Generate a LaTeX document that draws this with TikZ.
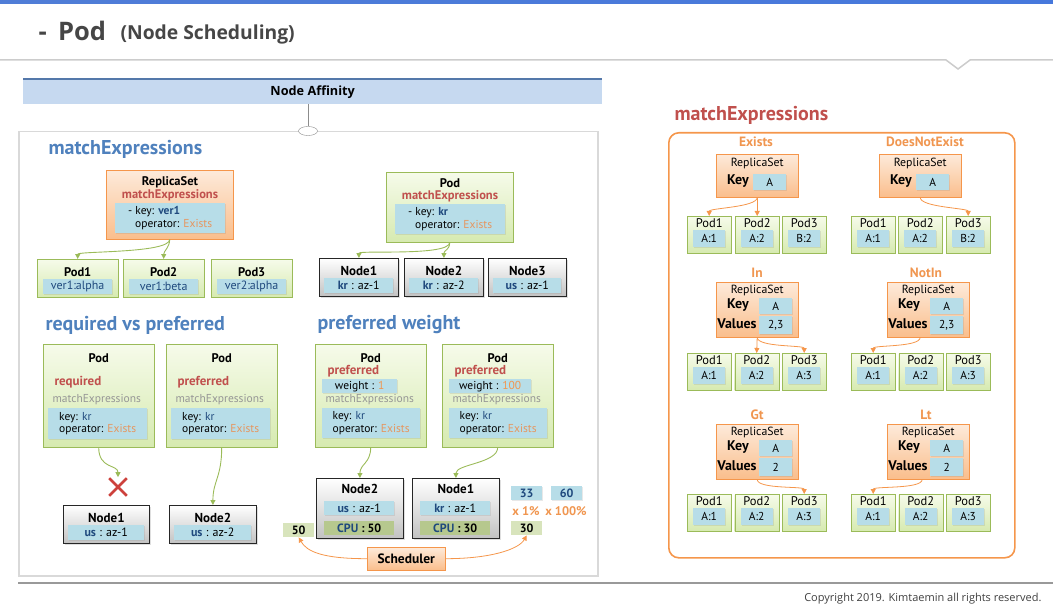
\documentclass[tikz,border=0pt]{standalone}
\usepackage{fontspec}
\setmainfont{PT Sans}
\newfontfamily\ttlfont{Open Sans}
\usetikzlibrary{arrows.meta,positioning,calc,shadows,shapes.geometric,shapes.misc}

\definecolor{hdblue}{RGB}{79,129,189}
\definecolor{hdred}{RGB}{192,80,77}
\definecolor{optxt}{RGB}{240,150,80}
\definecolor{extxt}{RGB}{230,150,95}
\definecolor{keyblue}{RGB}{31,73,125}
\definecolor{valblue}{RGB}{183,221,232}
\definecolor{podtop}{RGB}{246,251,234}
\definecolor{podbot}{RGB}{214,234,176}
\definecolor{podline}{RGB}{155,187,89}
\definecolor{rstop}{RGB}{253,234,218}
\definecolor{rsbot}{RGB}{250,190,140}
\definecolor{rsline}{RGB}{245,150,75}
\definecolor{cpuolive}{RGB}{182,200,142}
\definecolor{numolive}{RGB}{216,228,188}
\definecolor{affblue}{RGB}{198,217,240}
\definecolor{affline}{RGB}{84,120,170}
\definecolor{ttlgray}{RGB}{70,70,70}
\definecolor{mexgray}{RGB}{150,150,150}
\definecolor{crossred}{RGB}{205,65,60}
\definecolor{bandA}{RGB}{80,125,215}
\definecolor{bandB}{RGB}{150,185,235}
\definecolor{bandC}{RGB}{70,120,220}

\newcommand\fsz[1]{\fontsize{#1}{#1}\selectfont}
\newcommand\kv[2]{\textbf{\textcolor{keyblue}{#1}} : #2}

\tikzset{
  box/.style 2 args={anchor=north west, minimum width=#1pt, minimum height=#2pt, inner sep=0pt},
  shdw/.style={drop shadow={opacity=.25, shadow xshift=1.2pt, shadow yshift=-1.2pt}},
  rsbox/.style={draw=rsline, top color=rstop, bottom color=rsbot, shdw},
  podbox/.style={draw=podline, top color=podtop, bottom color=podbot, shdw},
  nodebox/.style={draw=black!85, line width=.8pt, top color=white, bottom color=black!24, shdw},
  valbox/.style={fill=valblue, drop shadow={opacity=.18, shadow xshift=1pt, shadow yshift=-1pt}},
  cpubox/.style={fill=cpuolive},
  numbox/.style={fill=numolive},
  boxttl/.style={font=\fsz{12.5}\bfseries},
  head/.style={font=\fsz{20}\bfseries, anchor=west},
  optitle/.style={font=\fsz{13.5}\bfseries, text=optxt},
  flow/.style={draw=podline, line width=.9pt, -{Triangle[length=5pt,width=5pt]}},
  oflow/.style={draw=rsline, line width=.8pt, -{Triangle[length=5pt,width=5pt]}},
}

\begin{document}
\begin{tikzpicture}[x=1pt,y=-1pt,font=\fsz{11.5}]
  \useasboundingbox (0,0) rectangle (1053,607);
  % page frame: band, title, rules
  \shade[left color=bandA, middle color=bandB, right color=bandC] (0,0) rectangle (1053,4);
  \node[anchor=base west, font=\ttlfont\bfseries\fsz{25.5}, text=ttlgray] (ttl) at (35,41) {-\hspace{.45em}Pod};
  \node[anchor=base west, font=\ttlfont\bfseries\fsz{19.3}, text=ttlgray] (ttlsub) at (117,40) {(Node Scheduling)};
  \draw[black!20, line width=1.5pt] (0,60) -- (946,60) -- (958,69) -- (970,60) -- (1053,60);
  \draw[black!40, line width=2pt] (18,583) -- (1053,583);
  \node[anchor=base east, font=\ttlfont\fsz{11}, text=black!75] (copy) at (1045,601) {Copyright 2019. Kimtaemin all rights reserved.};

  % ---- left: Node Affinity ----
  \node[fill=affblue, box={579}{25}, font=\ttlfont\bfseries\fsz{12.7}] (aff) at (23,79) {Node Affinity};
  \draw[affline, line width=2pt] (aff.north west) -- (aff.north east);
  \node[draw=black!15, line width=1.5pt, box={579}{444}] (lpanel) at (18,131) {};
  \node[ellipse, draw=black!45, fill=white, minimum width=19pt, minimum height=9pt, inner sep=0pt] (hub) at (308,131) {};
  \draw[black!45] (hub.north) -- (hub.north |- aff.south);

  % green pod / grey node with one value box
  \def\lpod#1#2#3#4#5{% name, x, y, title, value
    \node[podbox, box={81}{38}] (#1) at (#2,#3) {};
    \node[boxttl] (#1t) at ($(#1.north)+(0,13)$) {#4};
    \node[valbox, box={69}{15}, text=keyblue, font=\fsz{12}] (#1v) at ($(#1.north west)+(6,20)$) {#5};
  }
  \def\gnode#1#2#3#4#5#6{% name, x, y, width, title, value
    \node[nodebox, box={#4}{38}] (#1) at (#2,#3) {};
    \node[boxttl, font=\fsz{13}\bfseries] (#1t) at ($(#1.north)+(0,13)$) {#5};
    \node[valbox, box={#4-10}{15}, font=\fsz{12}] (#1v) at ($(#1.north west)+(5,20)$) {#6};
  }

  % matchExpressions (labels)
  \node[head, text=hdblue] (h1) at (45,149) {matchExpressions};
  \node[rsbox, box={127}{69}] (rs1) at (106,170) {};
  \node[boxttl] (rs1t) at (170,182) {ReplicaSet};
  \node[boxttl, text=hdred] (rs1m) at (170,195) {matchExpressions};
  \node[valbox, box={110}{30}, align=left] (rs1k) at (115,203)
    {- key: \textbf{\textcolor{keyblue}{ver1}}\\[1pt]\hspace*{7pt}operator: \textcolor{extxt}{Exists}};
  \lpod{lp1}{37}{259}{Pod1}{ver1:alpha}
  \lpod{lp2}{123}{259}{Pod2}{ver1:beta}
  \lpod{lp3}{211}{259}{Pod3}{ver2:alpha}
  \draw[flow] (rs1.south) .. controls +(0,14) and +(0,-8) .. (lp1.north);
  \draw[flow] (rs1.south) .. controls +(0,8) and +(0,-8) .. (lp2.north);

  % matchExpressions (nodes)
  \node[podbox, box={127}{70}] (tp) at (386,172) {};
  \node[boxttl] (tpt) at (450,183) {Pod};
  \node[boxttl, text=hdred] (tpm) at (450,196) {matchExpressions};
  \node[valbox, box={110}{30}, align=left] (tpk) at (395,204)
    {- key: \textbf{\textcolor{keyblue}{kr}}\\[1pt]\hspace*{7pt}operator: \textcolor{extxt}{Exists}};
  \gnode{tn1}{319}{258}{79}{Node1}{\kv{kr}{az-1}}
  \gnode{tn2}{404}{258}{79}{Node2}{\kv{kr}{az-2}}
  \gnode{tn3}{488}{258}{78}{Node3}{\kv{us}{az-1}}
  \draw[flow] (tp.south) .. controls +(0,14) and +(0,-8) .. (tn1.north);
  \draw[flow] (tp.south) .. controls +(0,8) and +(0,-8) .. (tn2.north);

  % required vs preferred
  \def\cpod#1#2#3#4{% name, x, y, kind
    \node[podbox, box={111}{103}] (#1) at (#2,#3) {};
    \node[boxttl] (#1t) at ($(#1.north)+(0,14)$) {Pod};
    \node[anchor=west, font=\fsz{13}\bfseries, text=hdred] (#1r) at ($(#1.north west)+(8,38)$) {#4};
    \node[anchor=west, text=mexgray] (#1m) at ($(#1.north west)+(6,56)$) {matchExpressions};
    \node[valbox, box={99}{31}, align=left] (#1k) at ($(#1.north west)+(5,64)$)
      {key: \textcolor{keyblue}{kr}\\[1pt]operator: \textcolor{extxt}{Exists}};
  }
  \node[head, text=hdblue] (h2) at (42,325) {required vs preferred};
  \cpod{rq}{43}{344}{required}
  \cpod{pf}{166}{344}{preferred}
  \node[cross out, draw=crossred, line width=2.6pt, minimum size=15pt, inner sep=0pt] (nox) at (118,487) {};
  \gnode{bn1}{63}{505}{86}{Node1}{\kv{us}{az-1}}
  \gnode{bn2}{169}{505}{87}{Node2}{\kv{us}{az-2}}
  \draw[flow, shorten >=1pt] (rq.south) .. controls +(0,22) and +(0,-14) .. (nox.north);
  \draw[flow] (pf.south) .. controls +(0,30) and +(0,-24) .. (bn2.north);

  % preferred weight
  \def\wpod#1#2#3#4#5{% name, x, y, weight, weight box width
    \node[podbox, box={111}{103}] (#1) at (#2,#3) {};
    \node[boxttl] (#1t) at ($(#1.north)+(0,14)$) {Pod};
    \node[anchor=west, font=\fsz{13}\bfseries, text=hdred] (#1r) at ($(#1.north west)+(9,27)$) {preferred};
    \node[valbox, box={#5}{14}] (#1w) at ($(#1.north west)+(7,35)$) {weight : \textcolor{optxt}{#4}};
    \node[anchor=west, text=mexgray] (#1m) at ($(#1.north west)+(7,56)$) {matchExpressions};
    \node[valbox, box={98}{30}, align=left] (#1k) at ($(#1.north west)+(7,64)$)
      {key: \textcolor{keyblue}{kr}\\[1pt]operator: \textcolor{extxt}{Exists}};
  }
  \def\cnode#1#2#3#4#5#6{% name, x, y, title, label, cpu
    \node[nodebox, box={87}{60}] (#1) at (#2,#3) {};
    \node[boxttl, font=\fsz{13}\bfseries] (#1t) at ($(#1.north)+(0,11)$) {#4};
    \node[valbox, box={70}{14}, font=\fsz{12}] (#1v) at ($(#1.north west)+(8,23)$) {#5};
    \node[cpubox, box={70}{14}, font=\fsz{12}\bfseries] (#1c) at ($(#1.north west)+(8,43)$) {\textcolor{keyblue}{CPU} : #6};
  }
  \node[head, text=hdblue] (h3) at (314,325) {preferred weight};
  \wpod{wa}{315}{344}{1}{75}
  \wpod{wb}{442}{344}{100}{82}
  \cnode{cn2}{316}{478}{Node2}{\kv{us}{az-1}}{50}
  \cnode{cn1}{412}{478}{Node1}{\kv{kr}{az-1}}{30}
  \draw[flow] (wa.south) .. controls +(0,16) and +(0,-14) .. (cn2.north);
  \draw[flow] (wb.south) .. controls +(0,16) and +(0,-14) .. (cn1.north);
  \node[numbox, box={31}{14}, font=\fsz{12}\bfseries] (n50) at (283,523) {50};
  \node[valbox, box={31}{14}, font=\fsz{12}\bfseries, text=keyblue] (n33) at (511,486) {33};
  \node[valbox, box={31}{14}, font=\fsz{12}\bfseries, text=keyblue] (n60) at (551,486) {60};
  \node[font=\fsz{12.5}\bfseries, text=optxt] (p1) at (526,511) {x 1\%};
  \node[font=\fsz{12.5}\bfseries, text=optxt] (p100) at (566,511) {x 100\%};
  \node[numbox, box={31}{14}, font=\fsz{12}\bfseries] (n30) at (511,521) {30};
  \node[rsbox, box={78}{23}, font=\fsz{13.5}\bfseries] (sched) at (367,547) {Scheduler};
  \draw[oflow] (sched.west) .. controls +(-45,0) and +(8,14) .. (n50.south);
  \draw[oflow] (sched.east) .. controls +(45,0) and +(-8,14) .. (n30.south);

  % ---- right: operators ----
  \def\rpod#1#2#3#4#5{% name, x, y, title, value
    \node[podbox, box={44}{37}] (#1) at ({#2},{#3}) {};
    \node[font=\fsz{12.5}] (#1t) at ($(#1.north)+(0,7)$) {#4};
    \node[valbox, box={32}{17}, font=\fsz{11.5}] (#1v) at ($(#1.north west)+(6,14)$) {#5};
  }
  \def\rrsk#1#2#3{% name, x, y : key only
    \node[rsbox, box={82}{43}] (#1) at (#2,#3) {};
    \node[font=\fsz{11.8}] (#1t) at ($(#1.north)+(0,9)$) {ReplicaSet};
    \node[font=\fsz{14}\bfseries] (#1kl) at ($(#1.north west)+(22,27)$) {Key};
    \node[valbox, box={33}{16}, font=\fsz{11.5}] (#1k) at ($(#1.north west)+(37,20)$) {A};
  }
  \def\rrsv#1#2#3#4{% name, x, y, values
    \node[rsbox, box={82}{55}] (#1) at (#2,#3) {};
    \node[font=\fsz{11.8}] (#1t) at ($(#1.north)+(0,8)$) {ReplicaSet};
    \node[font=\fsz{14}\bfseries] (#1kl) at ($(#1.north west)+(22,23)$) {Key};
    \node[valbox, box={33}{16}, font=\fsz{11.5}] (#1k) at ($(#1.north west)+(43,16)$) {A};
    \node[font=\fsz{14}\bfseries] (#1vl) at ($(#1.north west)+(21,42)$) {Values};
    \node[valbox, box={33}{18}, font=\fsz{11.5}] (#1v) at ($(#1.north west)+(43,34)$) {#4};
  }
  \node[head, text=hdred] (h4) at (671,115) {matchExpressions};
  \node[draw=rsline, line width=1.6pt, rounded corners=10pt, box={346}{425}] (rpanel) at (668,132) {};

  \node[optitle] (tex) at (756,142) {Exists};
  \node[optitle] (tdn) at (925,142) {DoesNotExist};
  \rrsk{rsE}{716}{154}
  \rrsk{rsD}{879}{154}
  \foreach \i/\x/\v in {1/687/A:1,2/735/A:2,3/782/B:2} {\rpod{ex\i}{\x}{216}{Pod\i}{\v}}
  \foreach \i/\x/\v in {1/851/A:1,2/898/A:2,3/946/B:2} {\rpod{dn\i}{\x}{216}{Pod\i}{\v}}
  \draw[oflow] (rsE.south) .. controls +(0,10) and +(0,-8) .. (ex1.north);
  \draw[oflow] (rsE.south) -- (ex2.north);
  \draw[oflow] (rsD.south) .. controls +(0,10) and +(0,-8) .. (dn3.north);

  \node[optitle] (tin) at (757,273) {In};
  \node[optitle] (tni) at (926,273) {NotIn};
  \rrsv{rsI}{716}{282}{2,3}
  \rrsv{rsN}{887}{282}{2,3}
  \foreach \i in {1,2,3} {\rpod{in\i}{687+(\i-1)*47.5}{353}{Pod\i}{A:\i}}
  \foreach \i in {1,2,3} {\rpod{ni\i}{851+(\i-1)*47.5}{353}{Pod\i}{A:\i}}
  \draw[oflow] (rsI.south) -- (in2.north);
  \draw[oflow] (rsI.south) .. controls +(0,10) and +(0,-8) .. (in3.north);
  \draw[oflow] ($(rsN.south)+(-8,0)$) .. controls +(0,10) and +(0,-8) .. (ni1.north);

  \node[optitle] (tgt) at (757,415) {Gt};
  \node[optitle] (tlt) at (926,415) {Lt};
  \rrsv{rsG}{716}{424}{2}
  \rrsv{rsL}{887}{424}{2}
  \foreach \i in {1,2,3} {\rpod{gt\i}{687+(\i-1)*47.5}{494}{Pod\i}{A:\i}}
  \foreach \i in {1,2,3} {\rpod{lt\i}{851+(\i-1)*47.5}{494}{Pod\i}{A:\i}}
  \draw[oflow] (rsG.south) .. controls +(0,10) and +(0,-8) .. (gt3.north);
  \draw[oflow] ($(rsL.south)+(-6,0)$) .. controls +(0,10) and +(0,-8) .. (lt1.north);
\end{tikzpicture}
\end{document}
